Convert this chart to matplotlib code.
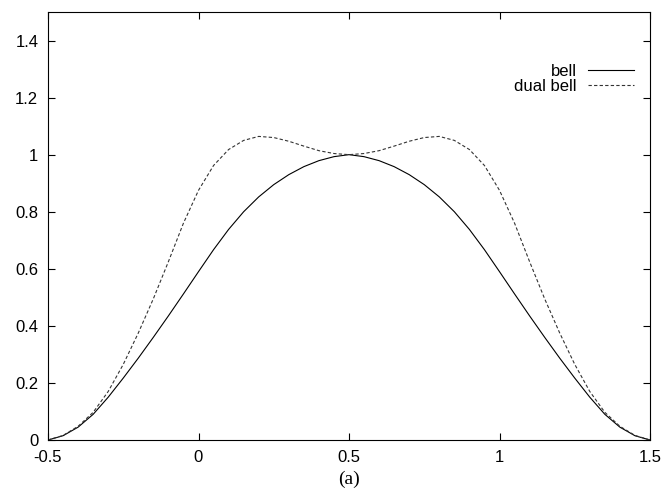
import matplotlib
matplotlib.use("Agg")
import matplotlib.pyplot as plt

plt.rcParams['font.family'] = ['Liberation Sans', 'DejaVu Sans']
plt.rcParams['axes.unicode_minus'] = False

# valores, paso 0.05 de -0.5 a 0.5 (la curva es simetrica en 0.5)
x_left = [-0.5, -0.45, -0.4, -0.35, -0.3, -0.25, -0.2, -0.15, -0.1, -0.05, 0.0,
          0.05, 0.1, 0.15, 0.2, 0.25, 0.3, 0.35, 0.4, 0.45, 0.5]
x_right = [0.55, 0.6, 0.65, 0.7, 0.75, 0.8, 0.85, 0.9, 0.95, 1.0,
           1.05, 1.1, 1.15, 1.2, 1.25, 1.3, 1.35, 1.4, 1.45, 1.5]

bell_left = [0.0, 0.015, 0.045, 0.09, 0.15, 0.217, 0.287, 0.36, 0.435, 0.512, 0.59,
             0.667, 0.738, 0.8, 0.852, 0.895, 0.93, 0.958, 0.979, 0.993, 1.0]
dual_left = [0.0, 0.016, 0.048, 0.097, 0.17, 0.265, 0.375, 0.495, 0.625, 0.76, 0.875,
             0.962, 1.018, 1.05, 1.064, 1.06, 1.047, 1.03, 1.014, 1.004, 1.0]

x = x_left + x_right
bell = bell_left + bell_left[-2::-1]
dual_bell = dual_left + dual_left[-2::-1]

xticks = [-0.5, 0, 0.5, 1, 1.5]
xtick_labels = ['-0.5', '0', '0.5', '1', '1.5']
yticks = [0, 0.2, 0.4, 0.6, 0.8, 1.0, 1.2, 1.4]
ytick_labels = ['0', '0.2', '0.4', '0.6', '0.8', '1', '1.2', '1.4']

fig = plt.figure(figsize=(6.65, 4.97), dpi=100)
ax = fig.add_axes([48/665, 57/497, 602/665, 428/497])

ax.plot(x, bell, color='black', lw=0.8, label='bell')
ax.plot(x, dual_bell, color='#333333', lw=0.8, dashes=(3, 2), label='dual bell')

ax.set_xlim(-0.5, 1.5)
ax.set_ylim(0, 1.5)
ax.set_xticks(xticks)
ax.set_xticklabels(xtick_labels)
ax.set_yticks(yticks)
ax.set_yticklabels(ytick_labels)
ax.tick_params(direction='in', length=5, width=0.8, top=True, right=True,
               labelsize=12, pad=7)
for s in ax.spines.values():
    s.set_linewidth(0.8)

ax.legend(loc='upper right', bbox_to_anchor=(0.985, 0.895), frameon=False,
          markerfirst=False, fontsize=12, handlelength=2.75, handletextpad=0.72,
          labelspacing=0.0, borderaxespad=0)

fig.text(0.5245, 0.026, '(a)', family='Liberation Serif', fontsize=14, ha='center')

fig.savefig('out.png', dpi=100)
